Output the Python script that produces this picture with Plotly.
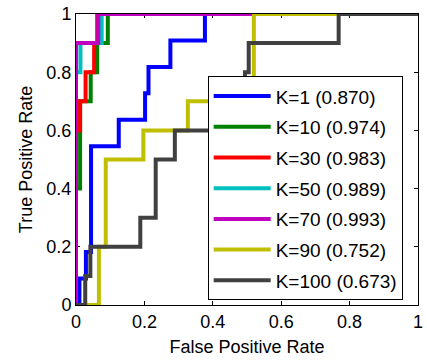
import plotly.graph_objects as go

# ROC step points (FPR, TPR); drawn with 'hv' steps
names = ["K=1", "K=10", "K=30", "K=50", "K=70", "K=90", "K=100"]
aucs = [0.870, 0.974, 0.983, 0.989, 0.993, 0.752, 0.673]
colors = ["#0000FF", "#008000", "#FF0000", "#00BFBF", "#BF00BF", "#BFBF00", "#404040"]

fpr_k1 = [0, 0.010, 0.029, 0.044, 0.125, 0.202, 0.212, 0.276, 0.377, 1]
tpr_k1 = [0, 0.0909, 0.1818, 0.5455, 0.6364, 0.7273, 0.8182, 0.9091, 1, 1]

fpr_k10 = [0, 0, 0.012, 0.043, 0.062, 0.093, 1]
tpr_k10 = [0, 0.4, 0.7, 0.8, 0.9, 1, 1]

fpr_k30 = [0, 0, 0.012, 0.028, 0.053, 0.062, 1]
tpr_k30 = [0, 0.6, 0.7, 0.8, 0.9, 1, 1]

fpr_k50 = [0, 0, 0.013, 0.075, 1]
tpr_k50 = [0, 0.8, 0.9, 1, 1]

fpr_k70 = [0, 0, 0.065, 1]
tpr_k70 = [0, 0.9, 1, 1]

fpr_k90 = [0, 0.067, 0.087, 0.197, 0.327, 0.52, 1]
tpr_k90 = [0, 0.2, 0.5, 0.6, 0.7, 1, 1]

fpr_k100 = [0, 0.027, 0.042, 0.188, 0.233, 0.289, 0.45, 0.494, 0.505, 0.768, 1]
tpr_k100 = [0, 0.1, 0.2, 0.3, 0.5, 0.6, 0.7, 0.8, 0.9, 1, 1]

series_x = [fpr_k1, fpr_k10, fpr_k30, fpr_k50, fpr_k70, fpr_k90, fpr_k100]
series_y = [tpr_k1, tpr_k10, tpr_k30, tpr_k50, tpr_k70, tpr_k90, tpr_k100]

tick_vals = [0, 0.2, 0.4, 0.6, 0.8, 1]
tick_text = ["0", "0.2", "0.4", "0.6", "0.8", "1"]

FONT = "Liberation Sans, Arial, Helvetica, sans-serif"

fig = go.Figure()
for i, (n, a, c, xs, ys) in enumerate(zip(names, aucs, colors, series_x, series_y)):
    fig.add_trace(go.Scatter(
        x=xs, y=ys, mode="lines", line=dict(color=c, width=4, shape="hv"),
        name=f"{n} ({a:.3f})", legendgroup=f"g{i}",
    ))

axis_common = dict(
    range=[0, 1], tickvals=tick_vals, ticktext=tick_text,
    showline=True, linecolor="black", linewidth=1, mirror="ticks",
    ticks="inside", ticklen=4, tickcolor="black", tickwidth=1,
    showgrid=False, zeroline=False, layer="below traces",
    ticklabeloverflow="allow",
    tickfont=dict(family=FONT, size=18, color="black"),
)

fig.update_layout(
    width=427, height=363,
    margin=dict(l=76, r=4, t=6, b=58),
    paper_bgcolor="white", plot_bgcolor="white",
    font=dict(family=FONT, size=18, color="black"),
    xaxis=dict(axis_common, title=dict(text="False Positive Rate", font=dict(size=18), standoff=9)),
    yaxis=dict(axis_common, title=dict(text="True Positive Rate", font=dict(size=18), standoff=9)),
    legend=dict(
        x=0.385, y=0.786, xanchor="left", yanchor="top",
        bgcolor="white", bordercolor="black", borderwidth=1,
        font=dict(family=FONT, size=19, color="black"),
        itemwidth=57, tracegroupgap=3, traceorder="grouped",
    ),
    showlegend=True,
)

fig.write_html("out.html")
